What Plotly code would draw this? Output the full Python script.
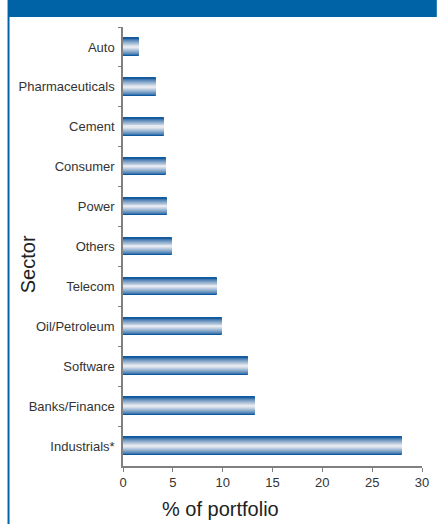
import plotly.graph_objects as go

# Portfolio weights by sector (top to bottom)
sectors = ["Auto", "Pharmaceuticals", "Cement", "Consumer", "Power", "Others",
           "Telecom", "Oil/Petroleum", "Software", "Banks/Finance", "Industrials*"]
weights = [1.65, 3.3, 4.15, 4.35, 4.45, 4.9, 9.45, 9.9, 12.55, 13.25, 28.0]

x_ticks = [0, 5, 10, 15, 20, 25, 30]

W, H = 441, 524
L, R, T, B = 123, 15, 27, 58
pw, ph = W - L - R, H - T - B


def px_x(px):
    return (px - L) / pw


def px_y(py):
    return (H - B - py) / ph


def mix(c1, c2, t):
    return "#" + "".join(f"{round(a + (b - a) * t):02x}" for a, b in zip(c1, c2))


dark = (0x1a, 0x5c, 0xa0)
light = (0xe6, 0xea, 0xf0)

fig = go.Figure()

# Outer bar with dark outline
fig.add_trace(go.Bar(
    y=sectors, x=weights, orientation="h", width=0.44,
    marker=dict(color=mix(dark, light, 0.0), line=dict(color="#0d5aa3", width=1)),
    hoverinfo="skip", showlegend=False,
))

# Stacked inner layers give the cylindrical shading
n = 9
for k in range(1, n):
    t = k / (n - 1)
    fig.add_trace(go.Bar(
        y=sectors, x=weights, orientation="h",
        width=0.40 * (1 - t) + 0.04,
        marker=dict(color=mix(dark, light, t ** 0.8), line=dict(width=0)),
        hoverinfo="skip", showlegend=False,
    ))

fig.update_layout(
    width=W, height=H,
    margin=dict(l=L, r=R, t=T, b=B),
    paper_bgcolor="white", plot_bgcolor="white",
    barmode="overlay", bargap=0,
    font=dict(family="Liberation Sans, Arial, sans-serif", color="#333333", size=13),
    xaxis=dict(
        range=[0, 30], tickvals=x_ticks, ticks="outside", ticklen=4,
        tickcolor="#808080", showline=True, linecolor="#808080", linewidth=1.5,
        showgrid=False, zeroline=False, tickfont=dict(size=13, color="#333333"),
        fixedrange=True,
    ),
    yaxis=dict(
        type="category", categoryorder="array", categoryarray=sectors,
        autorange="reversed", ticks="outside", tickson="boundaries", ticklen=3,
        tickcolor="#808080", showline=True, linecolor="#808080", linewidth=1.5,
        showgrid=False, tickfont=dict(size=13, color="#333333"), ticklabelstandoff=4,
    ),
    shapes=[
        # header band
        dict(type="rect", xref="paper", yref="paper",
             x0=px_x(6), x1=px_x(441), y0=px_y(17), y1=px_y(0),
             fillcolor="#0063a6", line=dict(width=0), layer="above"),
        # left frame line
        dict(type="line", xref="paper", yref="paper",
             x0=px_x(7), x1=px_x(7), y0=px_y(17), y1=px_y(524),
             line=dict(color="#0063a6", width=2)),
    ],
    annotations=[
        dict(text="% of portfolio", xref="paper", yref="paper",
             x=px_x(222), y=px_y(509), showarrow=False,
             font=dict(size=20, color="#222222"), xanchor="center", yanchor="middle"),
        dict(text="Sector", xref="paper", yref="paper",
             x=px_x(27), y=px_y(264), showarrow=False, textangle=-90,
             font=dict(size=20, color="#222222"), xanchor="center", yanchor="middle"),
    ],
)

fig.write_html("out.html")
